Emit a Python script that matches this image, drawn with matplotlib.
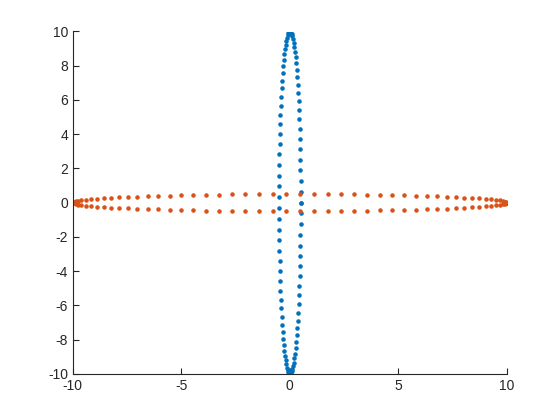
import matplotlib
matplotlib.use('Agg')
import matplotlib.pyplot as plt

# sample points of the two ellipses (upper half k=0..49, lower half k=50..99)
blue_x = [0.500, 0.499, 0.496, 0.491, 0.484, 0.475, 0.464, 0.451, 0.437, 0.421,
          0.403, 0.383, 0.362, 0.339, 0.315, 0.290, 0.264, 0.236, 0.208, 0.178,
          0.148, 0.118, 0.087, 0.055, 0.024, -0.008, -0.040, -0.071, -0.102, -0.133,
          -0.164, -0.193, -0.222, -0.250, -0.277, -0.303, -0.327, -0.351, -0.373, -0.393,
          -0.412, -0.429, -0.444, -0.458, -0.470, -0.480, -0.488, -0.494, -0.498, -0.500,
          -0.500, -0.498, -0.494, -0.488, -0.480, -0.470, -0.458, -0.444, -0.429, -0.412,
          -0.393, -0.373, -0.351, -0.327, -0.303, -0.277, -0.250, -0.222, -0.193, -0.164,
          -0.133, -0.102, -0.071, -0.040, -0.008, 0.024, 0.055, 0.087, 0.118, 0.148,
          0.178, 0.208, 0.236, 0.264, 0.290, 0.315, 0.339, 0.362, 0.383, 0.403,
          0.421, 0.437, 0.451, 0.464, 0.475, 0.484, 0.491, 0.496, 0.499, 0.500]
blue_y = [0.00, 0.63, 1.27, 1.89, 2.51, 3.12, 3.72, 4.30, 4.86, 5.41,
          5.93, 6.43, 6.90, 7.35, 7.76, 8.15, 8.50, 8.82, 9.10, 9.34,
          9.55, 9.72, 9.85, 9.94, 9.99, 10.00, 9.97, 9.90, 9.79, 9.64,
          9.45, 9.22, 8.96, 8.66, 8.33, 7.96, 7.56, 7.13, 6.67, 6.18,
          5.67, 5.14, 4.58, 4.01, 3.42, 2.82, 2.20, 1.58, 0.95, 0.32,
          -0.32, -0.95, -1.58, -2.20, -2.82, -3.42, -4.01, -4.58, -5.14, -5.67,
          -6.18, -6.67, -7.13, -7.56, -7.96, -8.33, -8.66, -8.96, -9.22, -9.45,
          -9.64, -9.79, -9.90, -9.97, -10.00, -9.99, -9.94, -9.85, -9.72, -9.55,
          -9.34, -9.10, -8.82, -8.50, -8.15, -7.76, -7.35, -6.90, -6.43, -5.93,
          -5.41, -4.86, -4.30, -3.72, -3.12, -2.51, -1.89, -1.27, -0.63, 0.00]
red_x = [10.00, 9.98, 9.92, 9.82, 9.68, 9.50, 9.28, 9.03, 8.74, 8.41,
         8.05, 7.66, 7.24, 6.79, 6.31, 5.80, 5.27, 4.72, 4.15, 3.57,
         2.97, 2.36, 1.74, 1.11, 0.48, -0.16, -0.79, -1.42, -2.05, -2.67,
         -3.27, -3.86, -4.44, -5.00, -5.54, -6.06, -6.55, -7.02, -7.45, -7.86,
         -8.24, -8.58, -8.89, -9.16, -9.40, -9.60, -9.75, -9.87, -9.96, -9.99,
         -9.99, -9.96, -9.87, -9.75, -9.60, -9.40, -9.16, -8.89, -8.58, -8.24,
         -7.86, -7.45, -7.02, -6.55, -6.06, -5.54, -5.00, -4.44, -3.86, -3.27,
         -2.67, -2.05, -1.42, -0.79, -0.16, 0.48, 1.11, 1.74, 2.36, 2.97,
         3.57, 4.15, 4.72, 5.27, 5.80, 6.31, 6.79, 7.24, 7.66, 8.05,
         8.41, 8.74, 9.03, 9.28, 9.50, 9.68, 9.82, 9.92, 9.98, 10.00]
red_y = [0.000, 0.032, 0.063, 0.095, 0.126, 0.156, 0.186, 0.215, 0.243, 0.270,
         0.296, 0.321, 0.345, 0.367, 0.388, 0.407, 0.425, 0.441, 0.455, 0.467,
         0.477, 0.486, 0.492, 0.497, 0.499, 0.500, 0.498, 0.495, 0.489, 0.482,
         0.473, 0.461, 0.448, 0.433, 0.416, 0.398, 0.378, 0.356, 0.333, 0.309,
         0.284, 0.257, 0.229, 0.200, 0.171, 0.141, 0.110, 0.079, 0.048, 0.016,
         -0.016, -0.048, -0.079, -0.110, -0.141, -0.171, -0.200, -0.229, -0.257, -0.284,
         -0.309, -0.333, -0.356, -0.378, -0.398, -0.416, -0.433, -0.448, -0.461, -0.473,
         -0.482, -0.489, -0.495, -0.498, -0.500, -0.499, -0.497, -0.492, -0.486, -0.477,
         -0.467, -0.455, -0.441, -0.425, -0.407, -0.388, -0.367, -0.345, -0.321, -0.296,
         -0.270, -0.243, -0.215, -0.186, -0.156, -0.126, -0.095, -0.063, -0.032, 0.000]

x_ticks = [-10, -5, 0, 5, 10]
y_ticks = [-10, -8, -6, -4, -2, 0, 2, 4, 6, 8, 10]

plt.rcParams['font.family'] = ['Liberation Sans', 'DejaVu Sans']
plt.rcParams['axes.unicode_minus'] = False  # plain hyphen like the original

fig = plt.figure(figsize=(5.6, 4.2), dpi=100)
ax = fig.add_axes([0.13, 0.11, 0.775, 0.815])

ax.plot(blue_x, blue_y, linestyle='none', marker='.', markersize=4.5, color='#0072BD')
ax.plot(red_x, red_y, linestyle='none', marker='.', markersize=4.5, color='#D95319')

ax.set_xlim(-10, 10)
ax.set_ylim(-10, 10)
ax.set_xticks(x_ticks)
ax.set_yticks(y_ticks)
ax.spines['top'].set_visible(False)
ax.spines['right'].set_visible(False)
for s in ['left', 'bottom']:
    ax.spines[s].set_color('#262626')
    ax.spines[s].set_linewidth(0.8)
ax.tick_params(direction='in', length=4, width=0.8, colors='#262626', labelsize=10)

fig.savefig('out.png', dpi=100)
